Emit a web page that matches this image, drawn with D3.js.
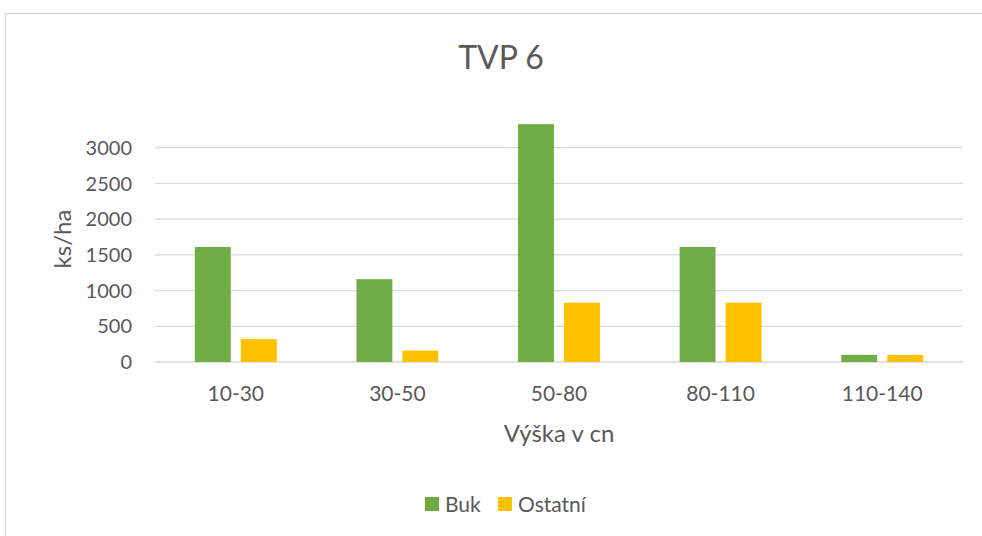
<!DOCTYPE html>
<html>
<head>
  <meta charset="utf-8" />
  <title>TVP 6</title>
  <style>
    body { margin: 0; background: #fff; }
    text { font-family: "Lato", "Carlito", sans-serif; fill: #595959; }
    .grid line { stroke: #d9d9d9; stroke-width: 1.3; }
  </style>
</head>
<body>
  <div id="container"></div>
  <script src="https://d3js.org/d3.v7.min.js"></script>
  <script>
// data
const categories = ["10-30", "30-50", "50-80", "80-110", "110-140"];
const seriesNames = ["Buk", "Ostatní"];
const buk = [1610, 1160, 3330, 1610, 100];
const ostatni = [320, 160, 830, 830, 100];
const yTicks = [0, 500, 1000, 1500, 2000, 2500, 3000];
const colors = ["#70ad47", "#ffc000"];

const W = 982, H = 536;
const plot = { left: 155, right: 963, top: 112, bottom: 362 };

const svg = d3.select("#container").append("svg")
  .attr("width", W)
  .attr("height", H);

// chart border (runs off to the right and bottom)
svg.append("rect")
  .attr("x", 5.5).attr("y", 13.5)
  .attr("width", 1000).attr("height", 600)
  .attr("fill", "none")
  .attr("stroke", "#d9d9d9")
  .attr("stroke-width", 1.3);

const y = d3.scaleLinear().domain([0, 3500]).range([plot.bottom, plot.top]);

const x0 = d3.scaleBand()
  .domain(categories)
  .range([plot.left, plot.right])
  .paddingInner(0.493)
  .paddingOuter(0.2465);

const x1 = d3.scaleBand()
  .domain(seriesNames)
  .range([0, x0.bandwidth()])
  .paddingInner(0.22);

// gridlines
svg.append("g").attr("class", "grid")
  .selectAll("line")
  .data(yTicks)
  .join("line")
  .attr("x1", plot.left).attr("x2", plot.right)
  .attr("y1", d => y(d)).attr("y2", d => y(d));

// y axis labels
svg.append("g")
  .selectAll("text")
  .data(yTicks)
  .join("text")
  .attr("x", 132)
  .attr("y", d => y(d))
  .attr("dy", "0.36em")
  .attr("text-anchor", "end")
  .style("font-size", "20px")
  .text(d => d);

// bars
const table = categories.map((c, i) => ({ cat: c, values: [buk[i], ostatni[i]] }));

const groups = svg.append("g")
  .selectAll("g")
  .data(table)
  .join("g")
  .attr("transform", d => `translate(${x0(d.cat)},0)`);

groups.selectAll("rect")
  .data(d => d.values.map((v, k) => ({ name: seriesNames[k], value: v, k: k })))
  .join("rect")
  .attr("x", d => x1(d.name))
  .attr("y", d => y(d.value))
  .attr("width", x1.bandwidth())
  .attr("height", d => y(0) - y(d.value))
  .attr("fill", d => colors[d.k]);

// x axis labels
svg.append("g")
  .selectAll("text")
  .data(categories)
  .join("text")
  .attr("x", d => x0(d) + x0.bandwidth() / 2)
  .attr("y", 401)
  .attr("text-anchor", "middle")
  .style("font-size", "21px")
  .text(d => d);

// titles
svg.append("text")
  .attr("x", 501).attr("y", 69)
  .attr("text-anchor", "middle")
  .style("font-size", "32px")
  .text("TVP 6");

svg.append("text")
  .attr("x", 559).attr("y", 442)
  .attr("text-anchor", "middle")
  .style("font-size", "24px")
  .text("Výška v cn");

svg.append("text")
  .attr("transform", "translate(71,239) rotate(-90)")
  .attr("text-anchor", "middle")
  .style("font-size", "24px")
  .text("ks/ha");

// legend
const legend = svg.append("g").attr("transform", "translate(425,497)");
const legendX = [0, 73];
seriesNames.forEach((name, i) => {
  const g = legend.append("g").attr("transform", `translate(${legendX[i]},0)`);
  g.append("rect")
    .attr("width", 14).attr("height", 14)
    .attr("fill", colors[i]);
  g.append("text")
    .attr("x", 20).attr("y", 15)
    .style("font-size", "21px")
    .text(name);
});
  </script>
</body>
</html>
